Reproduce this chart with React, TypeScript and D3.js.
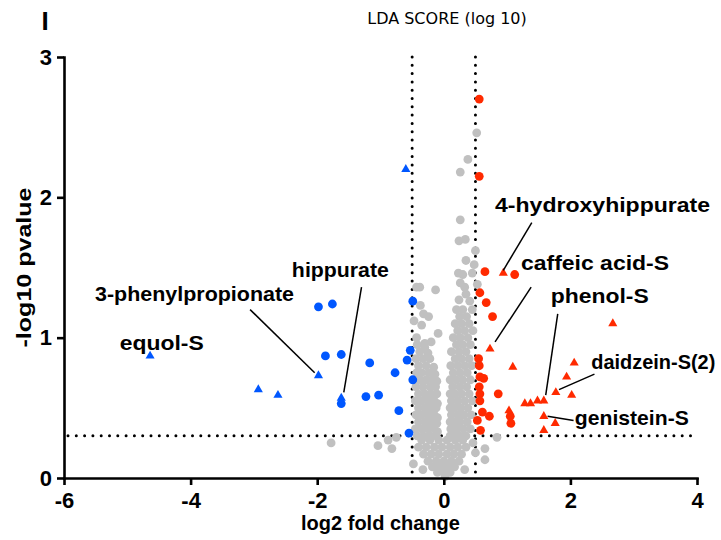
import { useRef, useEffect } from "react";
import * as d3 from "d3";

type Pt = [number, number];

// gray = not significant, [log2FC, -log10 p]
const grayUpper: Pt[] = [
  [0.52, 2.46], [0.38, 2.27], [0.26, 2.18], [0.26, 1.84], [0.24, 1.69],
  [0.34, 1.7], [0.5, 1.62], [0.35, 1.55], [0.48, 1.52],
  [-0.13, 1.34], [-0.38, 1.36], [-0.43, 1.36], [-0.37, 1.23], [-0.47, 1.12],
  [-0.35, 1.09], [-0.43, 1.0], [-0.3, 0.96], [-0.09, 1.03], [-0.32, 1.17], [-0.24, 1.15],
];

const grayLeftLobe: Pt[] = [
  [-0.42, 0.95], [-0.3, 0.93], [-0.2, 0.97],
  [-0.38, 0.9], [-0.25, 0.89],
  [-0.44, 0.85], [-0.33, 0.85], [-0.22, 0.85],
  [-0.4, 0.8], [-0.28, 0.8], [-0.16, 0.79],
  [-0.43, 0.75], [-0.35, 0.75], [-0.24, 0.75], [-0.14, 0.74],
  [-0.38, 0.7], [-0.28, 0.7], [-0.18, 0.7], [-0.11, 0.69],
  [-0.44, 0.65], [-0.33, 0.65], [-0.22, 0.65], [-0.13, 0.65],
  [-0.4, 0.6], [-0.3, 0.6], [-0.2, 0.6], [-0.11, 0.6],
  [-0.45, 0.55], [-0.35, 0.55], [-0.25, 0.55], [-0.15, 0.55], [-0.1, 0.53],
  [-0.4, 0.5], [-0.3, 0.5], [-0.2, 0.5], [-0.12, 0.5],
  [-0.44, 0.45], [-0.35, 0.45], [-0.25, 0.45], [-0.15, 0.45], [-0.1, 0.43],
  [-0.4, 0.4], [-0.3, 0.4], [-0.2, 0.4], [-0.11, 0.39],
  [-0.45, 0.35], [-0.35, 0.35], [-0.25, 0.35], [-0.15, 0.35], [-0.1, 0.33],
  [-0.42, 0.3], [-0.32, 0.3], [-0.22, 0.3], [-0.12, 0.3],
];

const grayRightLobe: Pt[] = [
  [0.23, 1.46], [0.3, 1.45], [0.45, 1.46],
  [0.26, 1.39], [0.33, 1.36], [0.53, 1.38],
  [0.24, 1.27], [0.41, 1.26], [0.35, 1.31],
  [0.2, 1.2], [0.3, 1.2], [0.45, 1.2],
  [0.25, 1.15], [0.36, 1.15],
  [0.18, 1.1], [0.28, 1.1], [0.4, 1.1],
  [0.22, 1.05], [0.33, 1.05], [0.46, 1.05],
  [0.15, 1.0], [0.26, 1.0], [0.38, 1.0],
  [0.2, 0.95], [0.3, 0.95], [0.42, 0.95],
  [0.12, 0.9], [0.24, 0.9], [0.35, 0.9],
  [0.18, 0.85], [0.28, 0.85], [0.4, 0.85],
  [0.11, 0.8], [0.22, 0.8], [0.33, 0.8], [0.44, 0.8],
  [0.15, 0.75], [0.26, 0.75], [0.37, 0.75],
  [0.1, 0.7], [0.2, 0.7], [0.3, 0.7], [0.42, 0.7],
  [0.14, 0.65], [0.25, 0.65], [0.36, 0.65],
  [0.1, 0.6], [0.18, 0.6], [0.28, 0.6], [0.4, 0.6],
  [0.12, 0.55], [0.22, 0.55], [0.33, 0.55], [0.45, 0.55],
  [0.1, 0.5], [0.17, 0.5], [0.27, 0.5], [0.38, 0.5],
  [0.12, 0.45], [0.22, 0.45], [0.32, 0.45], [0.43, 0.45],
  [0.1, 0.4], [0.16, 0.4], [0.26, 0.4], [0.37, 0.4],
  [0.11, 0.35], [0.21, 0.35], [0.31, 0.35], [0.42, 0.35],
  [0.1, 0.3], [0.15, 0.3], [0.25, 0.3], [0.35, 0.3],
];

const grayBase: Pt[] = [
  [-0.35, 0.27], [-0.22, 0.27], [-0.08, 0.27], [0.05, 0.27], [0.18, 0.27], [0.3, 0.27],
  [-0.4, 0.22], [-0.28, 0.22], [-0.15, 0.22], [-0.03, 0.22], [0.1, 0.22], [0.22, 0.22], [0.35, 0.22],
  [-0.32, 0.17], [-0.2, 0.17], [-0.08, 0.17], [0.05, 0.17], [0.16, 0.17], [0.28, 0.17],
  [-0.25, 0.12], [-0.12, 0.12], [0.0, 0.12], [0.12, 0.12], [0.24, 0.12],
  [-0.18, 0.08], [-0.06, 0.08], [0.06, 0.08], [0.17, 0.08],
  [-0.1, 0.04], [0.0, 0.04], [0.1, 0.04],
  [0.02, 0.01],
];

const grayOutliers: Pt[] = [
  [-1.78, 0.25], [-1.04, 0.23], [-0.88, 0.27], [-0.82, 0.21], [-0.75, 0.29],
  [-0.48, 0.1], [-0.33, 0.06], [0.84, 0.29], [0.65, 0.21], [0.65, 0.13],
  [0.5, 0.18], [0.46, 0.25], [0.33, 0.06],
];

const blueCircles: Pt[] = [
  [-1.98, 1.22], [-1.76, 1.24], [-1.87, 0.87], [-1.62, 0.88], [-1.17, 0.82],
  [-0.77, 0.75], [-1.62, 0.53], [-1.23, 0.58], [-1.03, 0.59], [-0.71, 0.48],
  [-0.55, 0.32], [-0.49, 1.26], [-0.53, 0.91], [-0.58, 0.84], [-0.49, 0.7],
];

const blueTriangles: Pt[] = [
  [-0.6, 2.2], [-1.98, 0.73], [-2.93, 0.63], [-2.62, 0.59], [-4.64, 0.87], [-1.62, 0.57],
];

const redCircles: Pt[] = [
  [0.56, 2.7], [0.56, 2.15], [0.65, 1.47], [1.12, 1.45], [0.57, 1.32],
  [0.67, 1.25], [0.77, 1.15], [0.55, 0.85], [0.56, 0.8], [0.57, 0.72],
  [0.63, 0.71], [0.56, 0.65], [0.57, 0.6], [0.86, 0.6], [0.57, 0.55],
  [0.61, 0.47], [0.72, 0.44], [0.53, 0.41], [1.05, 0.44], [1.06, 0.39], [0.58, 0.34],
];

const redTriangles: Pt[] = [
  [0.94, 1.46], [0.73, 0.92], [1.09, 0.79], [1.28, 0.53], [1.37, 0.53],
  [1.48, 0.55], [1.58, 0.55], [2.67, 1.1], [2.06, 0.82], [1.94, 0.72],
  [1.77, 0.61], [2.02, 0.59], [1.03, 0.48], [1.58, 0.44], [1.76, 0.39], [1.58, 0.34],
];

const xTicks = [-6, -4, -2, 0, 2, 4];
const yTicks = [0, 1, 2, 3];
const fcCutoff = 0.5;
const pCutoff = -Math.log10(0.5);

// label anchor (text left/baseline) and leader line, in data units
const labels = [
  { text: "4-hydroxyhippurate", x: 0.81, y: 1.895, line: [[1.39, 1.82], [0.94, 1.48]] },
  { text: "caffeic acid-S", x: 1.22, y: 1.48, line: [[1.38, 1.36], [0.81, 0.97]] },
  { text: "phenol-S", x: 1.69, y: 1.25, line: [[1.8, 1.17], [1.61, 0.59]] },
  { text: "daidzein-S(2)", x: 2.33, y: 0.78, line: [[2.38, 0.74], [1.82, 0.63]] },
  { text: "genistein-S", x: 2.07, y: 0.38, line: [[2.05, 0.41], [1.64, 0.44]] },
  { text: "equol-S", x: -5.12, y: 0.91, line: null },
  { text: "3-phenylpropionate", x: -5.51, y: 1.26, line: [[-3.06, 1.2], [-2.04, 0.75]] },
  { text: "hippurate", x: -2.4, y: 1.43, line: [[-1.3, 1.36], [-1.58, 0.61]] },
];
const labelWidths: Record<string, number> = {
  "4-hydroxyhippurate": 215,
  "caffeic acid-S": 148,
  "phenol-S": 98,
  "daidzein-S(2)": 124,
  "genistein-S": 114,
  "equol-S": 84,
  "3-phenylpropionate": 199,
  hippurate: 97,
};

const BLUE = "#0057ff";
const RED = "#ff2a00";
const GRAY = "#c0c0c0";
const FONT = "'Liberation Sans', Arial, Helvetica, sans-serif";

export default function App() {
  const svgRef = useRef<SVGSVGElement | null>(null);

  useEffect(() => {
    const width = 721;
    const height = 540;
    const svg = d3.select(svgRef.current);
    svg.selectAll("*").remove();
    svg.attr("width", width).attr("height", height);

    const x = d3.scaleLinear().domain([-6, 4]).range([64, 697]);
    const y = d3.scaleLinear().domain([0, 3]).range([478, 57]);

    // threshold lines
    const dotted = (sel: any) =>
      sel
        .attr("stroke", "#000")
        .attr("stroke-width", 3)
        .attr("stroke-dasharray", "0,8.3")
        .attr("stroke-linecap", "round")
        .attr("fill", "none");

    svg.append("line")
      .attr("x1", x(-6) + 4).attr("x2", x(3.95))
      .attr("y1", y(pCutoff)).attr("y2", y(pCutoff))
      .call(dotted);
    [-fcCutoff, fcCutoff].forEach((v) => {
      svg.append("line")
        .attr("x1", x(v)).attr("x2", x(v))
        .attr("y1", y(3)).attr("y2", y(0))
        .call(dotted);
    });

    // points
    const gray = [...grayUpper, ...grayLeftLobe, ...grayRightLobe, ...grayBase, ...grayOutliers];
    svg.append("g")
      .selectAll("circle")
      .data(gray)
      .join("circle")
      .attr("cx", (d) => x(d[0]))
      .attr("cy", (d) => y(d[1]))
      .attr("r", 4.4)
      .attr("fill", GRAY);

    const tri = d3.symbol().type(d3.symbolTriangle).size(36);
    const drawCircles = (data: Pt[], color: string) =>
      svg.append("g")
        .selectAll("circle")
        .data(data)
        .join("circle")
        .attr("cx", (d) => x(d[0]))
        .attr("cy", (d) => y(d[1]))
        .attr("r", 4.4)
        .attr("fill", color);
    const drawTriangles = (data: Pt[], color: string) =>
      svg.append("g")
        .selectAll("path")
        .data(data)
        .join("path")
        .attr("d", tri as any)
        .attr("transform", (d) => `translate(${x(d[0])},${y(d[1])})`)
        .attr("fill", color);

    drawCircles(blueCircles, BLUE);
    drawTriangles(blueTriangles, BLUE);
    drawCircles(redCircles, RED);
    drawTriangles(redTriangles, RED);

    // axes
    const xAxis = svg.append("g")
      .attr("transform", `translate(0,${y(0)})`)
      .call(d3.axisBottom(x).tickValues(xTicks).tickSize(7).tickSizeOuter(0).tickPadding(7).tickFormat(d3.format("d")));
    const yAxis = svg.append("g")
      .attr("transform", `translate(${x(-6)},0)`)
      .call(d3.axisLeft(y).tickValues(yTicks).tickSize(7).tickSizeOuter(0).tickPadding(5).tickFormat(d3.format("d")));
    [xAxis, yAxis].forEach((ax) => {
      ax.select(".domain").attr("stroke-width", 2.6).attr("stroke-linecap", "square");
      ax.selectAll(".tick line").attr("stroke-width", 2.6);
      ax.selectAll(".tick text")
        .attr("font-family", FONT)
        .attr("font-weight", "bold")
        .attr("font-size", 22)
        .attr("fill", "#000");
    });
    xAxis.selectAll(".tick text").text((d: any) => (d < 0 ? "-" + Math.abs(d) : String(d)));

    // labels
    labels.forEach((l) => {
      svg.append("text")
        .attr("x", x(l.x))
        .attr("y", y(l.y))
        .attr("font-family", FONT)
        .attr("font-weight", "bold")
        .attr("font-size", 20.5)
        .attr("textLength", labelWidths[l.text])
        .attr("lengthAdjust", "spacingAndGlyphs")
        .text(l.text);
      if (l.line) {
        svg.append("line")
          .attr("x1", x(l.line[0][0])).attr("y1", y(l.line[0][1]))
          .attr("x2", x(l.line[1][0])).attr("y2", y(l.line[1][1]))
          .attr("stroke", "#000")
          .attr("stroke-width", 1.5);
      }
    });

    // titles
    svg.append("text")
      .attr("x", 447)
      .attr("y", 24)
      .attr("text-anchor", "middle")
      .attr("font-family", "'DejaVu Sans', sans-serif")
      .attr("font-size", 16)
      .text("LDA SCORE (log 10)");
    svg.append("text")
      .attr("x", 45)
      .attr("y", 30)
      .attr("text-anchor", "middle")
      .attr("font-family", FONT)
      .attr("font-weight", "bold")
      .attr("font-size", 26)
      .text("I");
    svg.append("text")
      .attr("x", (x(-6) + x(4)) / 2)
      .attr("y", 530)
      .attr("text-anchor", "middle")
      .attr("font-family", FONT)
      .attr("font-weight", "bold")
      .attr("font-size", 20)
      .text("log2 fold change");
    svg.append("text")
      .attr("transform", `translate(31,${(y(0) + y(3)) / 2}) rotate(-90)`)
      .attr("text-anchor", "middle")
      .attr("font-family", FONT)
      .attr("font-weight", "bold")
      .attr("font-size", 21)
      .attr("textLength", 160)
      .attr("lengthAdjust", "spacingAndGlyphs")
      .text("-log10 pvalue");
  }, []);

  return (
    <div style={{ position: "absolute", left: 0, top: 0, width: 721, height: 540, background: "#fff" }}>
      <svg ref={svgRef} style={{ position: "absolute", left: 0, top: 0 }} />
    </div>
  );
}
